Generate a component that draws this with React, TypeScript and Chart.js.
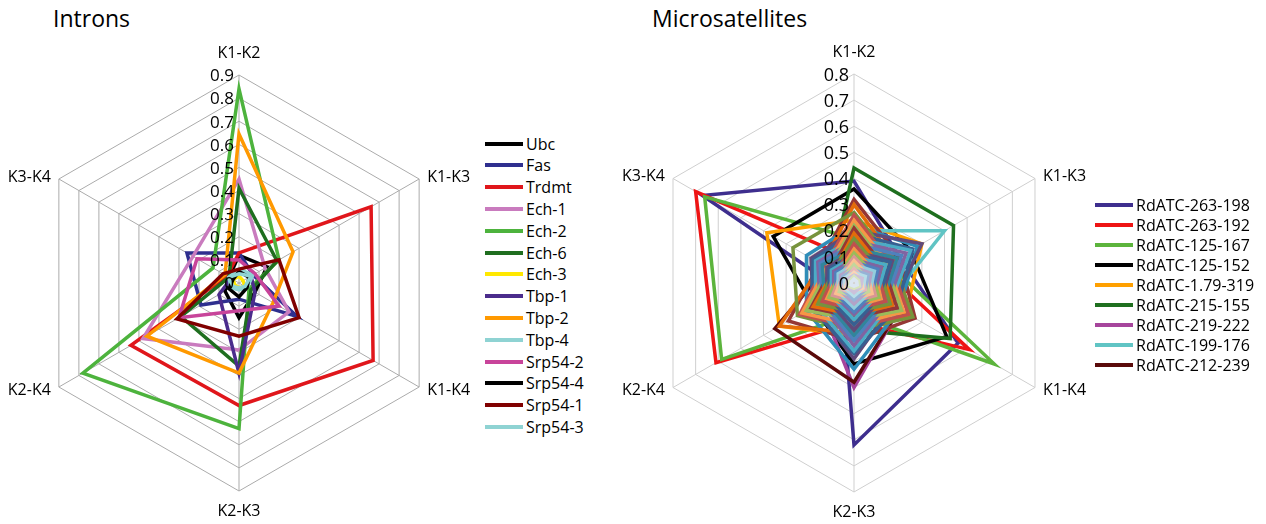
import React, { useEffect, useRef } from 'react';
import { Chart, registerables } from 'chart.js';

Chart.register(...registerables);

const FONT = '"Open Sans", "Noto Sans", sans-serif';

// ---------- shared axes ----------
const AXES = ['K1-K2', 'K1-K3', 'K1-K4', 'K2-K3', 'K2-K4', 'K3-K4'];

// ---------- Introns ----------
const INTRON_TICKS = ['0', '0.1', '0.2', '0.3', '0.4', '0.5', '0.6', '0.7', '0.8', '0.9'];
const INTRON_NAMES = ['Ubc', 'Fas', 'Trdmt', 'Ech-1', 'Ech-2', 'Ech-6', 'Ech-3', 'Tbp-1', 'Tbp-2', 'Tbp-4', 'Srp54-2', 'Srp54-4', 'Srp54-1', 'Srp54-3'];
const INTRON_COLORS = ['#000000', '#2F2F8F', '#E0161B', '#C97BBE', '#4DB33D', '#1F6E1F', '#FFE800', '#4B2C8C', '#FF9900', '#8FD3D3', '#C8449A', '#000000', '#800000', '#8FD3D3'];
const UBC = [0.12, 0.14, 0.08, 0.15, 0.07, 0.05];
const FAS = [0.13, 0.07, 0.29, 0.07, 0.19, 0.26];
const TRDMT = [0.13, 0.66, 0.67, 0.53, 0.54, 0.06];
const ECH1 = [0.45, 0.13, 0.25, 0.29, 0.48, 0.23];
const ECH2 = [0.84, 0.2, 0.05, 0.63, 0.78, 0.13];
const ECH6 = [0.41, 0.19, 0.06, 0.36, 0.29, 0.05];
const ECH3 = [0.03, 0.02, 0.03, 0.02, 0.02, 0.03];
const TBP1 = [0.05, 0.06, 0.08, 0.39, 0.1, 0.04];
const TBP2 = [0.645, 0.27, 0.17, 0.39, 0.46, 0.07];
const TBP4 = [0.06, 0.07, 0.04, 0.03, 0.04, 0.05];
const SRP54_2 = [0.1, 0.08, 0.2, 0.12, 0.3, 0.21];
const SRP54_4 = [0.05, 0.05, 0.04, 0.06, 0.05, 0.03];
const SRP54_1 = [0.06, 0.2, 0.3, 0.23, 0.31, 0.08];
const SRP54_3 = [0.04, 0.06, 0.03, 0.02, 0.03, 0.05];
const INTRON_VALUES = [UBC, FAS, TRDMT, ECH1, ECH2, ECH6, ECH3, TBP1, TBP2, TBP4, SRP54_2, SRP54_4, SRP54_1, SRP54_3];

// ---------- Microsatellites ----------
const MICRO_TICKS = ['0', '0.1', '0.2', '0.3', '0.4', '0.5', '0.6', '0.7', '0.8'];
const MICRO_NAMES = ['RdATC-263-198', 'RdATC-263-192', 'RdATC-125-167', 'RdATC-125-152', 'RdATC-1.79-319', 'RdATC-215-155', 'RdATC-219-222', 'RdATC-199-176', 'RdATC-212-239'];
const MICRO_COLORS = ['#3E2E8E', '#EE1414', '#5CB43C', '#000000', '#FFA000', '#1F6F1F', '#A6459C', '#60C4C4', '#5A0A0A'];
const R263_198 = [0.39, 0.2, 0.46, 0.62, 0.055, 0.67];
const R263_192 = [0.09, 0.12, 0.51, 0.15, 0.61, 0.7];
const R125_167 = [0.17, 0.15, 0.62, 0.12, 0.585, 0.66];
const R125_152 = [0.36, 0.25, 0.41, 0.31, 0.18, 0.357];
const R179_319 = [0.24, 0.3, 0.23, 0.2, 0.33, 0.385];
const R215_155 = [0.44, 0.44, 0.425, 0.18, 0.15, 0.1];
const R219_222 = [0.2, 0.18, 0.2, 0.4, 0.15, 0.15];
const R199_176 = [0.2, 0.4, 0.15, 0.2, 0.2, 0.1];
const R212_239 = [0.15, 0.2, 0.2, 0.38, 0.35, 0.12];
const MICRO_VALUES = [R263_198, R263_192, R125_167, R125_152, R179_319, R215_155, R219_222, R199_176, R212_239];

// remaining (unlabelled) microsatellite series
const MICRO_OTHER_VALUES = [
  [0.32, 0.2, 0.27, 0.22, 0.29, 0.15],
  [0.22, 0.28, 0.2, 0.33, 0.21, 0.21],
  [0.3, 0.18, 0.25, 0.19, 0.33, 0.14],
  [0.2, 0.3, 0.17, 0.29, 0.18, 0.19],
  [0.27, 0.17, 0.26, 0.18, 0.25, 0.27],
  [0.19, 0.26, 0.19, 0.27, 0.19, 0.18],
  [0.26, 0.16, 0.24, 0.17, 0.24, 0.13],
  [0.17, 0.25, 0.16, 0.26, 0.17, 0.17],
  [0.24, 0.15, 0.22, 0.16, 0.23, 0.12],
  [0.16, 0.23, 0.15, 0.24, 0.15, 0.16],
  [0.22, 0.14, 0.21, 0.14, 0.21, 0.11],
  [0.15, 0.21, 0.14, 0.22, 0.14, 0.15],
  [0.21, 0.13, 0.19, 0.13, 0.19, 0.1],
  [0.13, 0.19, 0.13, 0.2, 0.13, 0.14],
  [0.19, 0.12, 0.17, 0.12, 0.18, 0.09],
  [0.12, 0.17, 0.12, 0.18, 0.12, 0.12],
  [0.17, 0.11, 0.16, 0.11, 0.16, 0.09],
  [0.11, 0.16, 0.11, 0.16, 0.11, 0.11],
  [0.15, 0.1, 0.14, 0.1, 0.14, 0.08],
  [0.1, 0.14, 0.1, 0.14, 0.1, 0.1],
  [0.13, 0.09, 0.12, 0.09, 0.12, 0.07],
  [0.09, 0.12, 0.09, 0.12, 0.09, 0.09],
  [0.115, 0.08, 0.11, 0.08, 0.11, 0.065],
  [0.08, 0.105, 0.08, 0.11, 0.08, 0.08],
  [0.1, 0.07, 0.095, 0.07, 0.095, 0.06],
  [0.07, 0.09, 0.07, 0.095, 0.07, 0.07],
  [0.085, 0.06, 0.08, 0.06, 0.08, 0.05],
  [0.06, 0.075, 0.06, 0.08, 0.06, 0.06],
  [0.07, 0.05, 0.065, 0.05, 0.065, 0.045],
  [0.05, 0.062, 0.05, 0.065, 0.05, 0.05],
  [0.055, 0.04, 0.05, 0.04, 0.05, 0.035],
  [0.04, 0.05, 0.04, 0.05, 0.04, 0.04],
  [0.04, 0.03, 0.038, 0.03, 0.038, 0.028],
  [0.03, 0.036, 0.03, 0.037, 0.03, 0.03],
  [0.025, 0.02, 0.024, 0.02, 0.024, 0.018],
  [0.015, 0.012, 0.014, 0.012, 0.014, 0.011],
];
const MICRO_OTHER_COLORS = [
  '#953735', '#2F8DB8', '#E46C0A', '#604A7B', '#77933C', '#376092',
  '#C0504D', '#4BACC6', '#F79646', '#8064A2', '#9BBB59', '#4F81BD',
  '#953735', '#31859C', '#E46C0A', '#604A7B', '#77933C', '#376092',
  '#C0504D', '#4BACC6', '#F79646', '#8064A2', '#9BBB59', '#4F81BD',
  '#D99694', '#93CDDD', '#FAC090', '#B3A2C7', '#C3D69B', '#95B3D7',
  '#E6B9B8', '#B7DEE8', '#FCD5B5', '#CCC1DA', '#D7E4BD', '#DCE6F2',
];

type PanelCfg = {
  tickLabels: string[];
  tickSize: number;
  pointSize: number;
};

function makeLabelPlugin(cfg: PanelCfg) {
  return {
    id: 'excelLabels',
    afterDatasetsDraw(chart: any) {
      const scale = chart.scales.r;
      const ctx = chart.ctx;
      ctx.save();
      ctx.fillStyle = '#000000';
      ctx.font = `${cfg.tickSize}px ${FONT}`;
      ctx.textAlign = 'right';
      ctx.textBaseline = 'middle';
      scale.ticks.forEach((t: any, i: number) => {
        const d = scale.getDistanceFromCenterForValue(t.value);
        const text = cfg.tickLabels[i] !== undefined ? cfg.tickLabels[i] : String(t.value);
        ctx.fillText(text, scale.xCenter - 5, scale.yCenter - d + 1.5);
      });
      ctx.font = `${cfg.pointSize}px ${FONT}`;
      const labels: string[] = chart.data.labels;
      labels.forEach((lab, i) => {
        const p = scale.getPointPosition(i, scale.drawingArea);
        let x = p.x;
        let y = p.y;
        if (i === 0) {
          ctx.textAlign = 'center';
          y -= 22;
        } else if (i === 3) {
          ctx.textAlign = 'center';
          y += 20;
        } else if (i === 1 || i === 2) {
          ctx.textAlign = 'left';
          x += 8;
          y += i === 2 ? 3 : -2;
        } else {
          ctx.textAlign = 'right';
          x -= 8;
          y += i === 4 ? 3 : -2;
        }
        ctx.fillText(lab, x, y);
      });
      ctx.restore();
    },
  };
}

function buildChart(
  canvas: HTMLCanvasElement,
  names: string[],
  colors: string[],
  values: number[][],
  max: number,
  padding: { left: number; right: number; top: number; bottom: number },
  gridColor: string,
  cfg: PanelCfg
) {
  const datasets = values.map((v, i) => ({
    label: names[i] || '',
    data: v,
    borderColor: colors[i],
    backgroundColor: 'transparent',
    borderWidth: 3.5,
    pointRadius: 0,
    pointHoverRadius: 0,
    fill: false,
    tension: 0,
    order: -i,
  }));
  return new Chart(canvas, {
    type: 'radar',
    data: { labels: AXES, datasets },
    options: {
      responsive: false,
      animation: false,
      devicePixelRatio: 1,
      layout: { padding },
      plugins: { legend: { display: false }, tooltip: { enabled: false } },
      elements: { line: { borderJoinStyle: 'miter' } },
      scales: {
        r: {
          min: 0,
          max,
          ticks: { stepSize: 0.1, display: false },
          grid: { color: gridColor, lineWidth: 1 },
          angleLines: { color: gridColor, lineWidth: 1 },
          pointLabels: { display: false },
        },
      },
    },
    plugins: [makeLabelPlugin(cfg)],
  } as any);
}

function Legend({ names, colors, left, top, step, size }: { names: string[]; colors: string[]; left: number; top: number; step: number; size: number }) {
  return (
    <>
      {names.map((n, i) => (
        <div
          key={n + i}
          style={{
            position: 'absolute',
            left,
            top: top + i * step - 11,
            height: 22,
            display: 'flex',
            alignItems: 'center',
            whiteSpace: 'nowrap',
          }}
        >
          <div style={{ width: 38, height: 4, background: colors[i] }} />
          <span style={{ marginLeft: 3, fontFamily: FONT, fontSize: size, lineHeight: '22px', color: '#000' }}>{n}</span>
        </div>
      ))}
    </>
  );
}

export default function App() {
  const leftRef = useRef<HTMLCanvasElement>(null);
  const rightRef = useRef<HTMLCanvasElement>(null);

  useEffect(() => {
    const c1 = buildChart(
      leftRef.current as HTMLCanvasElement,
      INTRON_NAMES,
      INTRON_COLORS,
      INTRON_VALUES,
      0.9,
      { left: 31, right: 32, top: 75, bottom: 32 },
      '#ABABAB',
      { tickLabels: INTRON_TICKS, tickSize: 17, pointSize: 16 }
    );
    const c2 = buildChart(
      rightRef.current as HTMLCanvasElement,
      [...MICRO_NAMES, ...MICRO_OTHER_VALUES.map(() => '')],
      [...MICRO_COLORS, ...MICRO_OTHER_COLORS],
      [...MICRO_VALUES, ...MICRO_OTHER_VALUES],
      0.8,
      { left: 45, right: 36, top: 74, bottom: 31 },
      '#CFCFCF',
      { tickLabels: MICRO_TICKS, tickSize: 18, pointSize: 16 }
    );
    return () => {
      c1.destroy();
      c2.destroy();
    };
  }, []);

  return (
    <div style={{ position: 'absolute', left: 0, top: 0, width: 1266, height: 524, background: '#ffffff', overflow: 'hidden' }}>
      <div style={{ position: 'absolute', left: 53, top: 3, fontFamily: FONT, fontSize: 23, lineHeight: '30px', color: '#000' }}>Introns</div>
      <div style={{ position: 'absolute', left: 652, top: 3, fontFamily: FONT, fontSize: 23, lineHeight: '30px', color: '#000' }}>Microsatellites</div>
      <canvas ref={leftRef} width={480} height={524} style={{ position: 'absolute', left: 0, top: 0, width: 480, height: 524 }} />
      <canvas ref={rightRef} width={500} height={524} style={{ position: 'absolute', left: 600, top: 0, width: 500, height: 524 }} />
      <Legend names={INTRON_NAMES} colors={INTRON_COLORS} left={485} top={143.5} step={21.8} size={16} />
      <Legend names={MICRO_NAMES} colors={MICRO_COLORS} left={1095} top={205} step={20} size={16} />
    </div>
  );
}
